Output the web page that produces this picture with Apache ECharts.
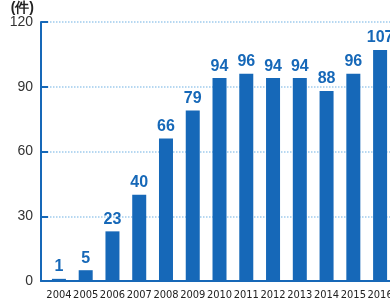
<!DOCTYPE html>
<html>
<head>
<meta charset="utf-8">
<script src="https://cdn.jsdelivr.net/npm/echarts@6/dist/echarts.min.js"></script>
<style>
html, body { margin: 0; padding: 0; background: #fff; }
#chart { width: 390px; height: 304px; }
</style>
</head>
<body>
<div id="chart"></div>
<script>
const years = [2004, 2005, 2006, 2007, 2008, 2009, 2010, 2011, 2012, 2013, 2014, 2015, 2016]
const counts = [1, 5, 23, 40, 66, 79, 94, 96, 94, 94, 88, 96, 107]
const yTicks = [0, 30, 60, 90, 120]
const unitLabel = '(件)'

const blue = '#1668b8'
const chart = echarts.init(document.getElementById('chart'))
chart.setOption({
  animation: false,
  grid: { left: 41, right: 0, top: 22, bottom: 23, containLabel: false, outerBoundsMode: 'none' },
  xAxis: {
    type: 'value',
    min: 2003.33, max: 2016.37,
    axisLine: { show: true, lineStyle: { color: blue, width: 2 } },
    axisTick: { show: false },
    splitLine: { show: false },
    axisLabel: {
      customValues: years,
      formatter: v => String(v),
      color: '#222', fontSize: 11,
      fontFamily: "'DejaVu Sans Condensed', 'Liberation Sans', sans-serif", margin: 9
    }
  },
  yAxis: {
    type: 'value',
    min: 0, max: 120, interval: 30,
    name: unitLabel,
    nameLocation: 'end', nameGap: 6,
    nameTextStyle: { color: '#222', fontSize: 14, fontWeight: 'bold', align: 'right', padding: [0, 7, 0, 0] },
    axisLine: { show: true, lineStyle: { color: blue, width: 2 } },
    axisTick: { show: true, inside: true, length: 7, lineStyle: { color: blue, width: 2 } },
    axisLabel: {
      customValues: yTicks,
      color: '#333', fontSize: 14, fontFamily: 'Liberation Sans', margin: 8
    },
    splitLine: { lineStyle: { color: '#9fcbed', type: 'dotted', width: 1.5 } }
  },
  series: [{
    type: 'bar',
    data: years.map((y, i) => [y, counts[i]]),
    barWidth: 14,
    itemStyle: { color: blue },
    label: {
      show: true, position: 'top', distance: 4,
      color: blue, fontSize: 16, fontWeight: 'bold', fontFamily: 'Liberation Sans'
    }
  }]
})
</script>
</body>
</html>
